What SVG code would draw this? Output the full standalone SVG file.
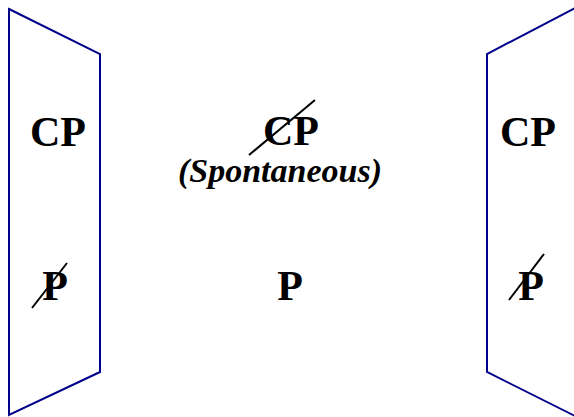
<svg xmlns="http://www.w3.org/2000/svg" width="574" height="417" viewBox="0 0 574 417">
<style>
.panel{fill:none;stroke:#00008b;stroke-width:2}
.t{font-family:"Liberation Serif","Times New Roman",serif;font-weight:bold;font-size:42px;fill:#000;text-anchor:middle}
.it{font-family:"Liberation Serif","Times New Roman",serif;font-weight:bold;font-style:italic;font-size:34px;fill:#000;text-anchor:middle}
.strike{stroke:#000;stroke-width:2;fill:none}
</style>
<rect width="574" height="417" fill="#fff"/>
<g id="left-panel">
<polygon class="panel" points="9,9 100,54 100,372 9,415"/>
<text class="t" x="58" y="146">CP</text>
<text class="t" x="55" y="300">P</text>
<line class="strike" x1="32" y1="308" x2="67" y2="263"/>
</g>
<g id="middle">
<text class="t" x="291" y="145">CP</text>
<line class="strike" x1="249" y1="155" x2="315" y2="100"/>
<text class="it" x="280" y="182">(Spontaneous)</text>
<text class="t" x="290" y="300">P</text>
</g>
<g id="right-panel">
<polygon class="panel" points="577,7 487,54 487,372 577,417"/>
<text class="t" x="528" y="146">CP</text>
<text class="t" x="531" y="300">P</text>
<line class="strike" x1="509" y1="300" x2="544" y2="254"/>
</g>
<g id="connectors"/>
</svg>
